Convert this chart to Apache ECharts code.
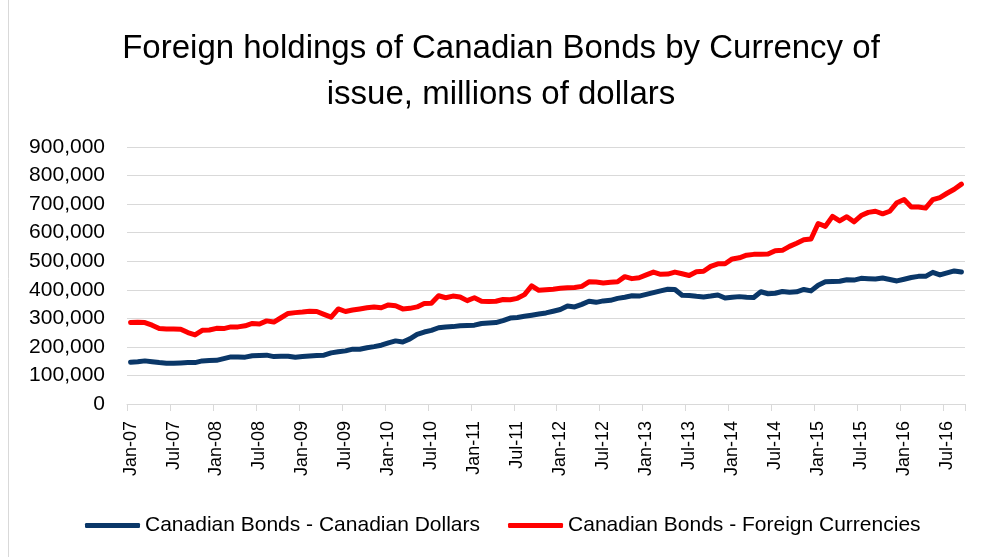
<!DOCTYPE html>
<html>
<head>
<meta charset="utf-8">
<script src="https://cdn.jsdelivr.net/npm/echarts@6/dist/echarts.min.js"></script>
<style>html,body{margin:0;padding:0;background:#fff}#chart{width:983px;height:557px}</style>
</head>
<body>
<div id="chart"></div>
<script>
// Categories: monthly, Jan-07 .. Sep-16
const monthNames = ['Jan','Feb','Mar','Apr','May','Jun','Jul','Aug','Sep','Oct','Nov','Dec'];
const years = ['07','08','09','10','11','12','13','14','15','16'];
const categories = [];
years.forEach(function (y) {
  monthNames.forEach(function (m, k) {
    if (y === '16' && k > 8) return;
    categories.push(m + '-' + y);
  });
});

const seriesNames = ['Canadian Bonds - Canadian Dollars', 'Canadian Bonds - Foreign Currencies'];

// Canadian Bonds - Canadian Dollars (millions of dollars)
const cadDollars = [
  146000,148000,151000,148000,145000,143000,143000,144000,145000,145000,151000,152000,
  153000,159000,165000,165000,164000,169000,170000,171000,166000,167000,167000,164000,
  166000,168000,170000,171000,179000,183000,186000,192000,192000,197000,201000,206000,
  214000,221000,217000,228000,244000,252000,258000,267000,270000,271000,274000,275000,
  276000,282000,284000,285000,292000,301000,303000,307000,311000,315000,319000,325000,
  331000,343000,340000,349000,360000,356000,361000,363000,370000,374000,379000,378000,
  384000,390000,396000,402000,401000,381000,380000,377000,375000,378000,382000,371000,
  374000,376000,374000,373000,393000,386000,388000,394000,391000,393000,401000,396000,
  416000,428000,429000,430000,435000,434000,440000,439000,438000,441000,436000,431000,
  437000,443000,447000,447000,461000,452000,459000,466000,462000
];

// Canadian Bonds - Foreign Currencies (millions of dollars)
const foreignCurrencies = [
  285000,286000,285000,276000,264000,263000,263000,262000,250000,242000,258000,259000,
  265000,264000,270000,270000,274000,282000,280000,291000,287000,302000,317000,320000,
  322000,325000,324000,314000,304000,333000,324000,329000,333000,337000,340000,337000,
  347000,344000,333000,335000,340000,352000,353000,379000,372000,378000,375000,362000,
  372000,360000,359000,360000,366000,365000,370000,383000,414000,398000,400000,402000,
  405000,407000,408000,412000,428000,427000,424000,426000,428000,446000,439000,442000,
  452000,462000,454000,455000,462000,456000,450000,463000,465000,482000,491000,491000,
  508000,512000,521000,524000,524000,525000,537000,538000,552000,563000,575000,578000,
  632000,622000,657000,641000,656000,638000,660000,671000,675000,666000,675000,705000,
  716000,690000,690000,686000,716000,723000,738000,752000,770000
];

const yTicks = { min: 0, max: 900000, interval: 100000 };

const FONT = '"Liberation Sans", Arial, sans-serif';
const chart = echarts.init(document.getElementById('chart'), null, { renderer: 'canvas' });
chart.setOption({
  animation: false,
  backgroundColor: '#ffffff',
  title: {
    text: 'Foreign holdings of Canadian Bonds by Currency of\nissue, millions of dollars',
    left: 501,
    textAlign: 'center',
    top: 26,
    padding: 0,
    textStyle: { fontFamily: FONT, fontSize: 33, fontWeight: 'normal', color: '#000', lineHeight: 46 }
  },
  legend: {
    left: 80,
    top: 510,
    itemWidth: 55,
    itemHeight: 5,
    itemGap: 28,
    icon: 'roundRect',
    data: seriesNames,
    textStyle: { fontFamily: FONT, fontSize: 21, color: '#000' }
  },
  grid: { left: 127, right: 18, top: 147, bottom: 153, containLabel: false },
  xAxis: {
    type: 'category',
    data: categories,
    boundaryGap: true,
    axisLine: { show: true, lineStyle: { color: '#d9d9d9', width: 1 } },
    axisTick: { show: true, interval: 5, length: 7, lineStyle: { color: '#d9d9d9' } },
    axisLabel: { interval: 5, rotate: 90, margin: 17, fontFamily: FONT, fontSize: 18, color: '#000' },
    splitLine: { show: false }
  },
  yAxis: {
    type: 'value',
    min: yTicks.min,
    max: yTicks.max,
    interval: yTicks.interval,
    axisLine: { show: false },
    axisTick: { show: false },
    axisLabel: {
      margin: 22, fontFamily: FONT, fontSize: 21, color: '#000',
      formatter: function (v) { return v.toLocaleString('en-US'); }
    },
    splitLine: { lineStyle: { color: '#d9d9d9', width: 1 } }
  },
  graphic: [{
    type: 'line', shape: { x1: 8.5, y1: 0, x2: 8.5, y2: 557 },
    style: { stroke: '#d9d9d9', lineWidth: 1 }, silent: true
  }],
  series: [
    {
      name: seriesNames[0], type: 'line', data: cadDollars, symbol: 'none', showSymbol: false,
      lineStyle: { width: 5, color: '#0a3768', cap: 'round', join: 'round' },
      itemStyle: { color: '#0a3768' }
    },
    {
      name: seriesNames[1], type: 'line', data: foreignCurrencies, symbol: 'none', showSymbol: false,
      lineStyle: { width: 5, color: '#ff0000', cap: 'round', join: 'round' },
      itemStyle: { color: '#ff0000' }
    }
  ]
});
</script>
</body>
</html>
